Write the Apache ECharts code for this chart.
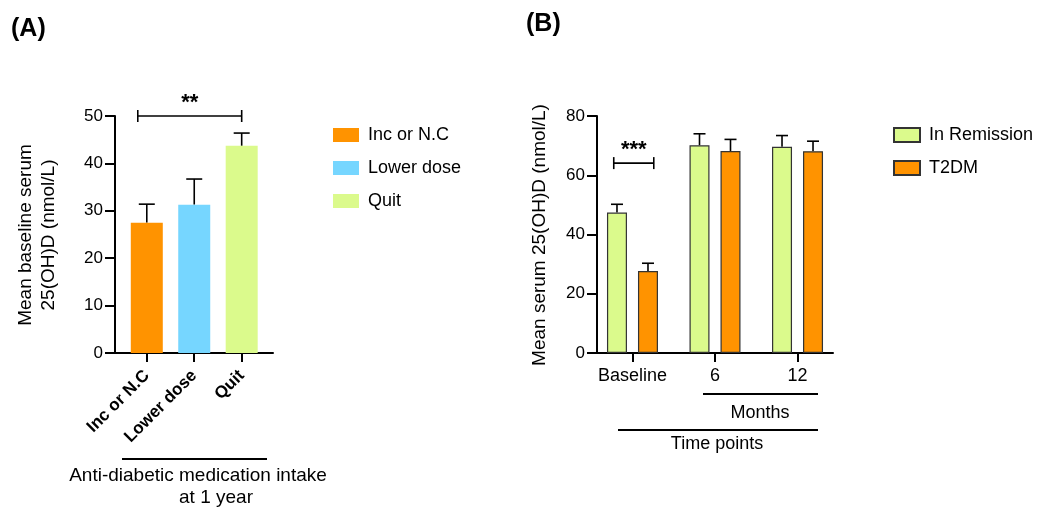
<!DOCTYPE html>
<html>
<head>
<meta charset="utf-8">
<script src="https://cdn.jsdelivr.net/npm/echarts@6/dist/echarts.min.js"></script>
<style>
  html, body { margin: 0; padding: 0; background: #fff; }
  #main { width: 1046px; height: 508px; }
</style>
</head>
<body>
<div id="main"></div>
<script>
// panel A: baseline vitamin D by medication change
var catsA = ['Inc or N.C', 'Lower dose', 'Quit'];
var meanA = [27.5, 31.3, 43.7];
var errTopA = [31.4, 36.7, 46.4];
var ticksA = [0, 10, 20, 30, 40, 50];

// panel B: vitamin D over time
var catsB = ['Baseline', '6', '12'];
var seriesB = ['In Remission', 'T2DM'];
var meanRemission = [47.4, 70.1, 69.6];
var errRemission = [50.2, 74.0, 73.4];
var meanT2dm = [27.7, 68.2, 68.1];
var errT2dm = [30.3, 72.1, 71.5];
var ticksB = [0, 20, 40, 60, 80];

var FONT = '"Liberation Sans", Arial, sans-serif';
var colorsA = ['#FF9300', '#76D6FF', '#DBFA8C'];
var colorsB = ['#DBFA8C', '#FF9300'];

var chart = echarts.init(document.getElementById('main'));

function errRender(offsetPx, capHalf) {
  return function (params, api) {
    var top = api.coord([api.value(0), api.value(1)]);
    var cap = api.coord([api.value(0), api.value(2)]);
    var x = top[0] + offsetPx;
    var st = { stroke: '#000', lineWidth: 1.6 };
    return {
      type: 'group',
      children: [
        { type: 'line', shape: { x1: x, y1: top[1], x2: x, y2: cap[1] }, style: st },
        { type: 'line', shape: { x1: x - capHalf, y1: cap[1], x2: x + capHalf, y2: cap[1] }, style: st }
      ]
    };
  };
}

function bracketRender(stars) {
  return function (params, api) {
    var p1 = api.coord([api.value(0), api.value(2)]);
    var p2 = api.coord([api.value(1), api.value(2)]);
    var st = { stroke: '#000', lineWidth: 1.6 };
    return {
      type: 'group',
      children: [
        { type: 'line', shape: { x1: p1[0], y1: p1[1], x2: p2[0], y2: p2[1] }, style: st },
        { type: 'line', shape: { x1: p1[0], y1: p1[1] - 6, x2: p1[0], y2: p1[1] + 6 }, style: st },
        { type: 'line', shape: { x1: p2[0], y1: p2[1] - 6, x2: p2[0], y2: p2[1] + 6 }, style: st },
        { type: 'text', x: (p1[0] + p2[0]) / 2, y: p1[1] - 13,
          style: { text: stars, font: 'bold 22px ' + FONT, fill: '#000', align: 'center', verticalAlign: 'middle' } }
      ]
    };
  };
}

function valueY(ticks, idx) {
  return {
    type: 'value', gridIndex: idx,
    min: ticks[0], max: ticks[ticks.length - 1], interval: ticks[1] - ticks[0],
    splitLine: { show: false },
    axisLine: { show: true, onZero: false, lineStyle: { color: '#000', width: 2 } },
    axisTick: { show: true, length: 10, lineStyle: { color: '#000', width: 2 } },
    axisLabel: { color: '#000', fontSize: 17, fontFamily: FONT, margin: 12 }
  };
}

function catX(cats, idx, min, max, label) {
  return {
    type: 'value', gridIndex: idx, min: min, max: max,
    splitLine: { show: false },
    axisLine: { show: true, onZero: false, lineStyle: { color: '#000', width: 2 } },
    axisTick: { show: true, length: 9, customValues: [0, 1, 2], lineStyle: { color: '#000', width: 2 } },
    axisLabel: Object.assign({
      customValues: [0, 1, 2],
      formatter: function (v) { return cats[Math.round(v)]; },
      color: '#000', fontFamily: FONT
    }, label)
  };
}

var series = [];
catsA.forEach(function (c, i) {
  series.push({
    name: c, type: 'bar', xAxisIndex: 0, yAxisIndex: 0,
    barWidth: 32, barGap: '-100%',
    itemStyle: { color: colorsA[i] },
    data: [[i, meanA[i]]]
  });
});
series.push({
  type: 'custom', xAxisIndex: 0, yAxisIndex: 0,
  renderItem: errRender(0, 8), encode: { x: 0, y: [1, 2] },
  data: catsA.map(function (c, i) { return [i, meanA[i], errTopA[i]]; })
});
series.push({
  type: 'custom', xAxisIndex: 0, yAxisIndex: 0,
  renderItem: bracketRender('**'), encode: { x: [0, 1], y: 2 },
  data: [[-0.19, 2, 50]]
});

var meansB = [meanRemission, meanT2dm];
var errsB = [errRemission, errT2dm];
seriesB.forEach(function (name, s) {
  series.push({
    name: name, type: 'bar', xAxisIndex: 1, yAxisIndex: 1,
    barWidth: 20, barGap: '55%',
    itemStyle: { color: colorsB[s], borderColor: '#333', borderWidth: 1.2 },
    data: catsB.map(function (c, i) { return [i, meansB[s][i]]; })
  });
  series.push({
    type: 'custom', xAxisIndex: 1, yAxisIndex: 1,
    renderItem: errRender(s === 0 ? -15.5 : 15.5, 6), encode: { x: 0, y: [1, 2] },
    data: catsB.map(function (c, i) { return [i, meansB[s][i], errsB[s][i]]; })
  });
});
series.push({
  type: 'custom', xAxisIndex: 1, yAxisIndex: 1,
  renderItem: bracketRender('***'), encode: { x: [0, 1], y: 2 },
  data: [[-0.227, 0.258, 64.1]]
});

var option = {
  animation: false,
  backgroundColor: '#fff',
  grid: [
    { left: 115, top: 116, width: 158, height: 237, outerBoundsMode: 'none', containLabel: false },
    { left: 597, top: 116, width: 236, height: 237, outerBoundsMode: 'none', containLabel: false }
  ],
  xAxis: [
    catX(catsA, 0, -0.67, 2.66, { rotate: 45, fontWeight: 'bold', fontSize: 17, margin: 20 }),
    catX(catsB, 1, -0.43, 2.43, { fontSize: 18, margin: 14 })
  ],
  yAxis: [valueY(ticksA, 0), valueY(ticksB, 1)],
  legend: [
    {
      data: catsA, orient: 'vertical', left: 328, top: 121,
      itemWidth: 26, itemHeight: 14, itemGap: 15, icon: 'rect',
      textStyle: { color: '#000', fontSize: 18, fontFamily: FONT, padding: [0, 0, 0, 4] }
    },
    {
      data: seriesB, orient: 'vertical', left: 888, top: 121,
      itemWidth: 26, itemHeight: 14, itemGap: 15, icon: 'rect',
      textStyle: { color: '#000', fontSize: 18, fontFamily: FONT, padding: [0, 0, 0, 4] }
    }
  ],
  graphic: [
    { type: 'text', x: 11, y: 29, style: { text: '(A)', font: 'bold 25px ' + FONT, fill: '#000', verticalAlign: 'middle' } },
    { type: 'text', x: 526, y: 24, style: { text: '(B)', font: 'bold 25px ' + FONT, fill: '#000', verticalAlign: 'middle' } },
    { type: 'text', x: 37, y: 235, rotation: Math.PI / 2,
      style: { text: 'Mean baseline serum\n25(OH)D (nmol/L)', font: '19px ' + FONT, lineHeight: 23, fill: '#000', align: 'center', verticalAlign: 'middle' } },
    { type: 'text', x: 540, y: 235, rotation: Math.PI / 2,
      style: { text: 'Mean serum 25(OH)D (nmol/L)', font: '19px ' + FONT, fill: '#000', align: 'center', verticalAlign: 'middle' } },
    { type: 'line', shape: { x1: 122, y1: 459, x2: 267, y2: 459 }, style: { stroke: '#000', lineWidth: 2 } },
    { type: 'text', x: 198, y: 476, style: { text: 'Anti-diabetic medication intake', font: '19px ' + FONT, fill: '#000', align: 'center', verticalAlign: 'middle' } },
    { type: 'text', x: 216, y: 498, style: { text: 'at 1 year', font: '19px ' + FONT, fill: '#000', align: 'center', verticalAlign: 'middle' } },
    { type: 'line', shape: { x1: 703, y1: 394, x2: 818, y2: 394 }, style: { stroke: '#000', lineWidth: 2 } },
    { type: 'text', x: 760, y: 413, style: { text: 'Months', font: '18px ' + FONT, fill: '#000', align: 'center', verticalAlign: 'middle' } },
    { type: 'line', shape: { x1: 618, y1: 430, x2: 818, y2: 430 }, style: { stroke: '#000', lineWidth: 2 } },
    { type: 'text', x: 717, y: 444, style: { text: 'Time points', font: '18px ' + FONT, fill: '#000', align: 'center', verticalAlign: 'middle' } }
  ],
  series: series
};

chart.setOption(option);
</script>
</body>
</html>
